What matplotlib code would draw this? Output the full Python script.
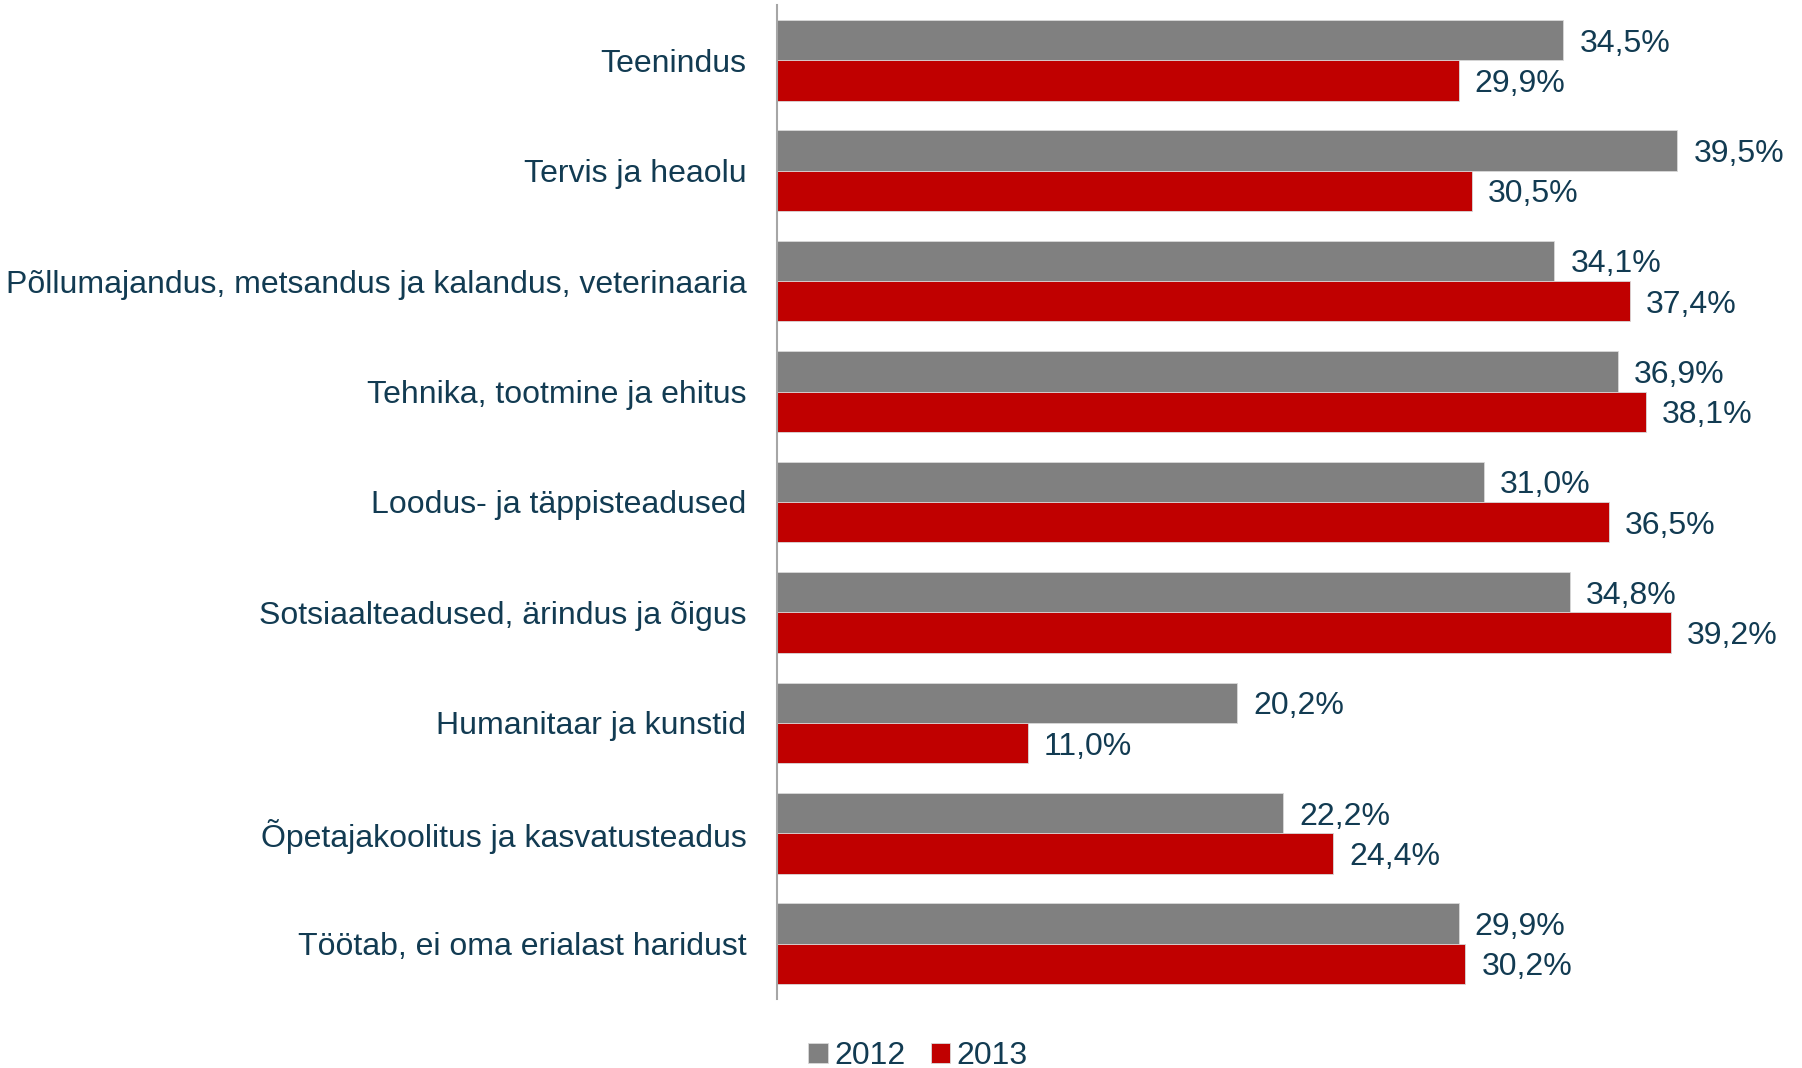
import matplotlib.pyplot as plt
import numpy as np

plt.rcParams['font.family'] = ['Liberation Sans', 'DejaVu Sans']

# data
categories = [
    "Teenindus",
    "Tervis ja heaolu",
    "Põllumajandus, metsandus ja kalandus, veterinaaria",
    "Tehnika, tootmine ja ehitus",
    "Loodus- ja täppisteadused",
    "Sotsiaalteadused, ärindus ja õigus",
    "Humanitaar ja kunstid",
    "Õpetajakoolitus ja kasvatusteadus",
    "Töötab, ei oma erialast haridust",
]
values_2012 = [34.5, 39.5, 34.1, 36.9, 31.0, 34.8, 20.2, 22.2, 29.9]
values_2013 = [29.9, 30.5, 37.4, 38.1, 36.5, 39.2, 11.0, 24.4, 30.2]

text_col = '#123B52'
grey = '#808080'
red = '#C00000'

fig = plt.figure(figsize=(18.02, 10.68), dpi=100)
ax = fig.add_axes([777 / 1802, 69 / 1068, 1003 / 1802, 994 / 1068])

y = np.arange(len(categories))
h = 0.365

bars1 = ax.barh(y - h / 2, values_2012, height=h, color=grey, edgecolor='#d9d9d9', linewidth=0.6, label='2012')
bars2 = ax.barh(y + h / 2, values_2013, height=h, color=red, edgecolor='#d9d9d9', linewidth=0.6, label='2013')

# value labels with comma as decimal sign
for bars, vals in [(bars1, values_2012), (bars2, values_2013)]:
    for b, v in zip(bars, vals):
        ax.text(v + 0.7, b.get_y() + b.get_height() / 2, f"{v:.1f}%".replace('.', ','),
                va='center_baseline', ha='left', fontsize=23, color=text_col)

ax.set_xlim(0, 44)
ax.set_ylim(len(categories) - 0.5, -0.5)
ax.set_yticks(y)
ax.set_yticklabels(categories, fontsize=23, color=text_col)
ax.set_xticks([])
ax.tick_params(axis='y', length=0, pad=22)

for s in ['top', 'right', 'bottom']:
    ax.spines[s].set_visible(False)
ax.spines['left'].set_color('#a6a6a6')
ax.spines['left'].set_linewidth(1.5)

leg = fig.legend(handles=[bars1, bars2], labels=['2012', '2013'], loc='center',
                 bbox_to_anchor=(918 / 1802, 12 / 1068), ncol=2, frameon=False,
                 fontsize=23, handlelength=0.6, handleheight=0.6,
                 handletextpad=0.2, columnspacing=0.8)
for t in leg.get_texts():
    t.set_color(text_col)

fig.savefig('out.png', dpi=100, facecolor='white')
